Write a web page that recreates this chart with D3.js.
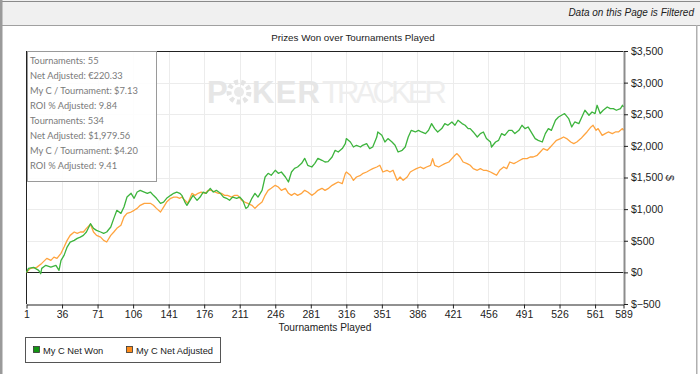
<!DOCTYPE html>
<html><head><meta charset="utf-8">
<script src="https://cdn.jsdelivr.net/npm/d3@7"></script>
<style>
html,body{margin:0;padding:0;background:#fff;}
svg{display:block;font-family:"Liberation Sans",Arial,sans-serif;}
</style></head>
<body>
<svg id="chart" width="700" height="374"></svg>
<script>
const chartTitle = "Prizes Won over Tournaments Played";
const xTickValues = [1,36,71,106,141,176,211,246,281,316,351,386,421,456,491,526,561,589];
const yTickValues = [-500,0,500,1000,1500,2000,2500,3000,3500];
const seriesNames = ["My C Net Won","My C Net Adjusted"];
const tooltipLines = ["Tournaments: 55","Net Adjusted: €220.33","My C / Tournament: $7.13","ROI % Adjusted: 9.84",
  "Tournaments: 534","Net Adjusted: $1,979.56","My C / Tournament: $4.20","ROI % Adjusted: 9.41"];

const wonTournament = [1,3,8,13,15,16,20,25,30,33,35,38,41,44,48,51,54,57,60,64,67,70,74,77,80,84,87,90,94,97,100,104,107,110,113,117,120,123,126,129,133,136,139,143,146,149,152,154,157,159,162,165,169,172,175,178,182,185,188,192,195,198,201,204,208,211,214,217,219,223,226,229,233,236,239,242,246,249,252,256,259,262,265,268,272,275,278,282,285,288,292,295,298,302,305,308,312,315,316,320,323,326,330,332,336,339,342,346,347,351,354,357,361,364,367,371,374,377,380,384,387,390,394,397,400,403,406,410,413,416,420,423,426,430,433,436,438,441,445,448,451,454,458,459,463,466,469,472,476,479,482,486,489,492,495,499,502,505,509,512,515,518,522,525,528,531,535,538,541,545,548,551,555,558,561,563,566,569,573,576,579,582,586,588,589];
const netWon = [0,63,79,32,-21,63,111,84,111,32,190,269,400,479,506,538,558,585,638,770,696,664,638,617,638,717,854,981,933,1033,1191,1250,1171,1270,1297,1270,1250,1270,1218,1171,1092,1112,1171,1218,1250,1270,1250,1218,1112,1060,1139,1218,1139,1191,1270,1250,1329,1270,1297,1250,1191,1171,1139,1191,1171,1191,1139,1012,1033,1171,1250,1191,1297,1508,1566,1535,1614,1566,1587,1508,1429,1587,1645,1666,1724,1803,1693,1666,1724,1803,1772,1745,1750,1824,1930,1903,1957,2036,2115,2061,1982,2009,1982,2009,2036,1957,1982,2140,2220,2167,2061,2115,2061,2009,1903,1930,1982,2140,2246,2220,2246,2220,2194,2246,2352,2273,2220,2273,2352,2326,2378,2326,2405,2352,2326,2273,2273,2220,2140,2194,2220,2115,2061,1982,2061,2088,2194,2167,2246,2246,2194,2246,2326,2273,2299,2194,2115,2088,2061,2194,2273,2246,2405,2457,2484,2511,2432,2299,2378,2352,2457,2563,2484,2536,2511,2642,2511,2563,2615,2590,2590,2563,2590,2642,2615];

const adjTournament = [1,5,11,16,21,25,28,31,35,38,41,44,48,51,54,57,60,64,67,70,74,77,80,84,87,90,94,97,100,104,107,110,113,117,120,123,126,129,133,136,139,143,146,149,152,154,157,160,164,167,170,173,177,180,183,187,190,193,196,199,203,206,209,213,216,219,223,226,229,233,236,239,242,246,249,252,256,259,262,265,268,272,275,278,282,285,288,292,295,298,302,305,308,312,315,316,320,323,326,330,332,336,339,342,346,349,352,356,359,362,366,369,372,376,379,382,385,389,392,395,399,401,403,407,410,413,417,420,423,425,428,431,435,438,441,445,448,451,454,458,461,464,467,471,474,477,481,484,487,490,494,497,500,504,507,510,514,517,520,523,527,530,533,537,540,543,547,550,553,557,559,562,564,568,571,574,578,581,584,588,589];
const netAdjusted = [0,63,79,142,221,190,242,221,301,400,506,585,638,617,638,638,696,760,638,585,558,506,480,585,638,696,744,875,933,954,981,1012,1060,1092,1092,1092,1060,1012,954,1033,1112,1171,1191,1191,1171,1191,1139,1092,1250,1218,1250,1270,1250,1297,1297,1270,1250,1250,1218,1218,1191,1218,1218,1139,1112,1092,1060,1012,1060,1112,1218,1297,1329,1376,1349,1297,1329,1250,1218,1250,1218,1250,1297,1270,1218,1250,1297,1329,1297,1324,1376,1403,1429,1403,1561,1587,1535,1455,1508,1535,1561,1587,1614,1640,1666,1693,1587,1614,1587,1614,1455,1508,1455,1508,1587,1614,1640,1666,1640,1666,1693,1799,1693,1666,1693,1720,1745,1799,1851,1878,1824,1745,1720,1693,1640,1614,1640,1614,1614,1587,1561,1535,1614,1666,1640,1745,1720,1745,1772,1799,1799,1824,1824,1851,1903,1957,1930,1982,2036,2088,2115,2140,2115,2061,2036,2061,2115,2167,2220,2299,2326,2246,2273,2167,2194,2220,2194,2220,2220,2273,2246];

const svg = d3.select("#chart");
const W = 700, H = 374;
const L = 26.5, R = 623.5, T = 51, B = 304;

// outer frame
svg.append("rect").attr("x",0).attr("y",0).attr("width",W).attr("height",H).attr("fill","#fff");
svg.append("rect").attr("x",0).attr("y",0).attr("width",W).attr("height",25).attr("fill","#f0f0f0");
svg.append("line").attr("x1",0).attr("x2",W).attr("y1",1.5).attr("y2",1.5).attr("stroke","#8a8a8a").attr("stroke-width",1);
svg.append("line").attr("x1",0).attr("x2",W).attr("y1",25.5).attr("y2",25.5).attr("stroke","#a0a0a0");
svg.append("rect").attr("x",0).attr("y",0).attr("width",2.5).attr("height",H).attr("fill","#9a9a9a");
svg.append("rect").attr("x",696).attr("y",25).attr("width",1.5).attr("height",H).attr("fill","#b0b0b0");
svg.append("text").attr("x",694).attr("y",16).attr("text-anchor","end")
  .attr("font-style","italic").attr("fill","#222").attr("font-size",10)
  .text("Data on this Page is Filtered");

const x = d3.scaleLinear().domain([1,589]).range([L,R]);
const y = d3.scaleLinear().domain([-500,3500]).range([B,T]);

// title
svg.append("text").attr("x",353).attr("y",41).attr("text-anchor","middle")
  .attr("font-size",9.8).attr("fill","#222").text(chartTitle);

// grid
const g = svg.append("g");
g.selectAll(".vg").data(xTickValues.slice(1,-1)).join("line")
  .attr("x1",d=>Math.round(x(d))+0.5).attr("x2",d=>Math.round(x(d))+0.5).attr("y1",T).attr("y2",B)
  .attr("stroke","#ececec");
g.selectAll(".hg").data(yTickValues.filter(v=>v!==0 && v!==3500 && v!==-500)).join("line")
  .attr("x1",L).attr("x2",R).attr("y1",d=>Math.round(y(d))+0.5).attr("y2",d=>Math.round(y(d))+0.5)
  .attr("stroke","#ececec");

// watermark
const wm = svg.append("g").attr("fill","#e6e6e6");
wm.append("text").attr("x",207).attr("y",103).attr("font-size",31).attr("font-weight","bold").text("P");
wm.append("circle").attr("cx",239).attr("cy",92).attr("r",10).attr("fill","none")
  .attr("stroke","#e4e4e4").attr("stroke-width",5).attr("stroke-dasharray","4 3");
wm.append("circle").attr("cx",239).attr("cy",92).attr("r",5).attr("fill","#eaeaea");
wm.append("text").attr("x",252).attr("y",103).attr("font-size",31).attr("font-weight","bold")
  .attr("textLength",68).text("KER");
wm.append("text").attr("x",322).attr("y",103).attr("font-size",31).attr("fill","#eeeeee")
  .attr("textLength",125).text("TRACKER");

// plot borders
svg.append("line").attr("x1",L).attr("x2",R).attr("y1",T+0.5).attr("y2",T+0.5).attr("stroke","#222");
svg.append("line").attr("x1",L).attr("x2",L).attr("y1",T).attr("y2",B).attr("stroke","#222");
svg.append("line").attr("x1",L).attr("x2",R).attr("y1",Math.round(y(0))+0.5).attr("y2",Math.round(y(0))+0.5).attr("stroke","#222");

// lines
const lineGen = d3.line().x(d=>x(d[0])).y(d=>y(d[1]));
const wonPts = wonTournament.map((t,i)=>[t,netWon[i]]);
const adjPts = adjTournament.map((t,i)=>[t,netAdjusted[i]]);
svg.append("path").datum(adjPts).attr("d",lineGen).attr("fill","none")
  .attr("stroke","#ffa43f").attr("stroke-width",1.3).attr("stroke-linejoin","round");
svg.append("path").datum(wonPts).attr("d",lineGen).attr("fill","none")
  .attr("stroke","#3db43d").attr("stroke-width",1.3).attr("stroke-linejoin","round");

// bottom axis
const xa = svg.append("g").attr("transform",`translate(0,${B+0.5})`)
  .call(d3.axisBottom(x).tickValues(xTickValues).tickSize(4).tickPadding(2).tickSizeOuter(0));
xa.select(".domain").attr("stroke","#222");
xa.selectAll(".tick line").attr("stroke","#222");
xa.selectAll("text").attr("font-size",10.5).attr("fill","#222")
  .style("font-family","'Liberation Sans',Arial,sans-serif");

// right axis
const ya = svg.append("g").attr("transform",`translate(${R+0.5},0)`)
  .call(d3.axisRight(y).tickValues(yTickValues).tickSize(4).tickPadding(3).tickSizeOuter(0)
    .tickFormat(d=>"$"+d3.format(",")(d)));
ya.select(".domain").attr("stroke","#8c8c8c").attr("stroke-width",2);
ya.selectAll(".tick line").attr("stroke","#222");
ya.selectAll("text").attr("font-size",10.5).attr("fill","#222")
  .style("font-family","'Liberation Sans',Arial,sans-serif");

// axis titles
svg.append("text").attr("x",325).attr("y",331).attr("text-anchor","middle")
  .attr("font-size",10.2).attr("fill","#222").text("Tournaments Played");
svg.append("text").attr("transform","translate(666,178) rotate(90)").attr("text-anchor","middle")
  .attr("font-size",10.5).attr("fill","#222").text("$");

// tooltip box
const tb = svg.append("g");
tb.append("rect").attr("x",27.5).attr("y",51.5).attr("width",129).attr("height",130)
  .attr("fill","#fff").attr("fill-opacity",0.88).attr("stroke","#9a9a9a");
tb.selectAll("text").data(tooltipLines).join("text")
  .attr("x",30).attr("y",(d,i)=>64+i*15).attr("font-size",9.3).attr("fill","#7a7a7a")
  .style("font-family","Lato,'Liberation Sans',sans-serif").text(d=>d);

// legend
const lg = svg.append("g");
lg.append("rect").attr("x",25.5).attr("y",337.5).attr("width",195).attr("height",25)
  .attr("fill","#fff").attr("stroke","#555");
const legColors = ["#129512","#ff8c1a"];
const legX = [33,126];
seriesNames.forEach((n,i)=>{
  lg.append("rect").attr("x",legX[i]+0.5).attr("y",346.5).attr("width",6).attr("height",6)
    .attr("fill",legColors[i]).attr("stroke","#333").attr("stroke-width",0.8);
  lg.append("text").attr("x",legX[i]+10).attr("y",354).attr("font-size",9.3).attr("fill","#222").text(n);
});
</script>
</body></html>
